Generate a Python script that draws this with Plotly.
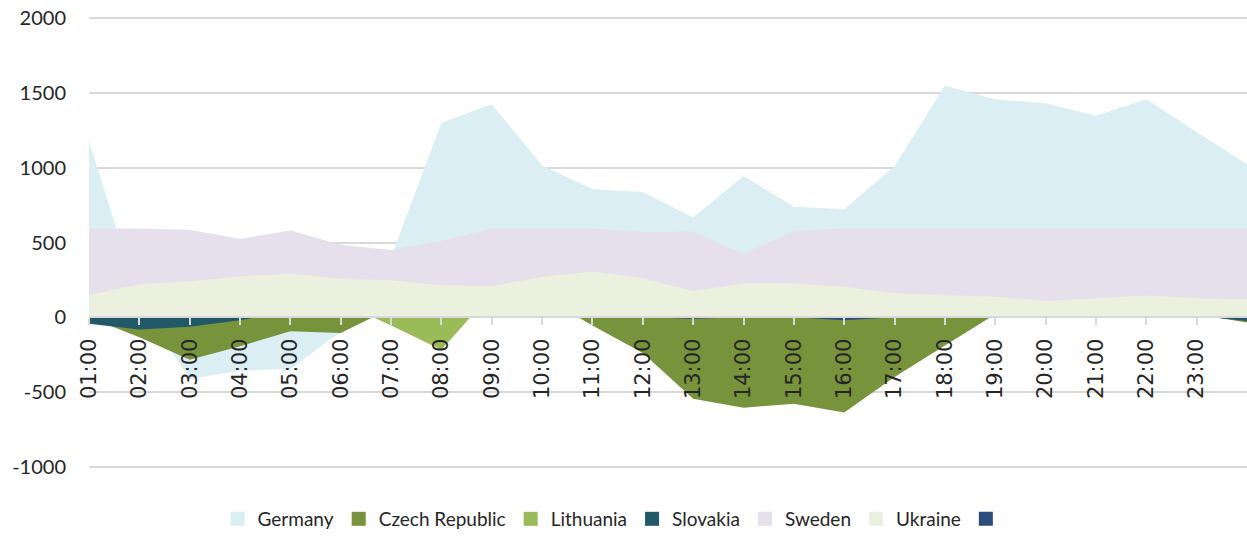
import plotly.graph_objects as go

# Categories (hours); the last one carries no visible label in the reference
hours = ["01:00", "02:00", "03:00", "04:00", "05:00", "06:00", "07:00", "08:00",
         "09:00", "10:00", "11:00", "12:00", "13:00", "14:00", "15:00", "16:00",
         "17:00", "18:00", "19:00", "20:00", "21:00", "22:00", "23:00", "24:00"]
tick_labels = hours[:23]

germany = [1180, 100, -414, -359, -345, -100, 400, 1300, 1425, 1015, 856, 838,
           667, 945, 740, 722, 1010, 1549, 1460, 1433, 1349, 1460, 1240, 1024]
czech = [0, -135, -285, -194, -95, -106, 60, 50, 100, 140, -55, -240,
         -546, -606, -579, -639, -400, -190, 20, 50, 50, 50, 20, -35]
lithuania = [340, 0, 0, 0, 0, 100, -55, -218, 160, 0, 0, 0,
             0, 0, 0, 0, 0, 0, 0, 0, 0, 0, 0, 0]
slovakia = [-44, -82, -64, -20, 40, 0, 0, 0, 0, 0, 0, 0,
            0, 0, 0, 0, 0, 0, 0, 0, 0, 0, 10, -25]
sweden = [593, 593, 586, 524, 581, 485, 449, 511, 593, 593, 593, 570,
          573, 423, 579, 593, 593, 593, 593, 593, 593, 593, 593, 593]
ukraine = [148, 220, 240, 273, 291, 258, 247, 214, 209, 269, 306, 262,
           176, 225, 225, 203, 161, 148, 137, 108, 126, 145, 126, 119]
other = [0, 0, 0, 0, 0, 0, 0, 0, 0, 0, 0, 0,
         -10, 0, 0, -20, 0, 0, 0, 0, 0, 0, 5, -12]

series_names = ["Germany", "Czech Republic", "Lithuania", "Slovakia", "Sweden", "Ukraine", " "]
series_values = [germany, czech, lithuania, slovakia, sweden, ukraine, other]
series_colors = ["#DBEEF4", "#77933C", "#9BBB59", "#215968", "#E5E0EC", "#EBF1DE", "#2A4D7E"]

y_ticks = [-1000, -500, 0, 500, 1000, 1500, 2000]
y_tick_labels = ["-1000", "-500", "0", "500", "1000", "1500", "2000"]

Y_MIN, Y_MAX = -1010, 2010

fig = go.Figure()

for name, vals, col in zip(series_names, series_values, series_colors):
    fig.add_trace(go.Scatter(
        x=hours, y=vals, name=name, mode="none", fill="tozeroy",
        fillcolor=col, showlegend=False, hoverinfo="skip"))

# Legend entries (square swatches like the original)
for name, col in zip(series_names, series_colors):
    fig.add_trace(go.Scatter(
        x=[None], y=[None], name=name, mode="markers",
        marker=dict(symbol="square", size=14, color=col),
        showlegend=True))

fig.update_layout(
    width=1247, height=538,
    margin=dict(l=89, r=0, t=17, b=62),
    paper_bgcolor="white", plot_bgcolor="white",
    showlegend=True,
    legend=dict(orientation="h", x=0.456, xanchor="center", y=-0.113, yanchor="middle",
                font=dict(family="Lato", size=19, color="#262626"),
                itemwidth=30, tracegroupgap=0, bgcolor="rgba(0,0,0,0)"),
    xaxis=dict(type="category", range=[0, 23], anchor="free",
               position=(0 - Y_MIN) / (Y_MAX - Y_MIN),
               showline=True, linecolor="#D9D9D9", linewidth=2,
               ticks="outside", ticklen=7, tickcolor="#D9D9D9", tickwidth=2,
               tickvals=tick_labels, ticktext=tick_labels, tickangle=-90,
               ticklabelstandoff=5,
               tickfont=dict(family="DejaVu Sans", size=21, color="#262626"),
               showgrid=False, zeroline=False, automargin=False, layer="above traces"),
    yaxis=dict(range=[Y_MIN, Y_MAX], tickvals=y_ticks, ticktext=y_tick_labels,
               showgrid=True, gridcolor="#D9D9D9", gridwidth=2,
               zeroline=False, showline=False,
               ticks="", ticklabelstandoff=22,
               tickfont=dict(family="Lato", size=20, color="#262626"),
               automargin=False),
)

fig.write_html("out.html", config={"displayModeBar": False},
               post_script="document.body.style.margin='0';document.body.style.overflow='hidden';")
